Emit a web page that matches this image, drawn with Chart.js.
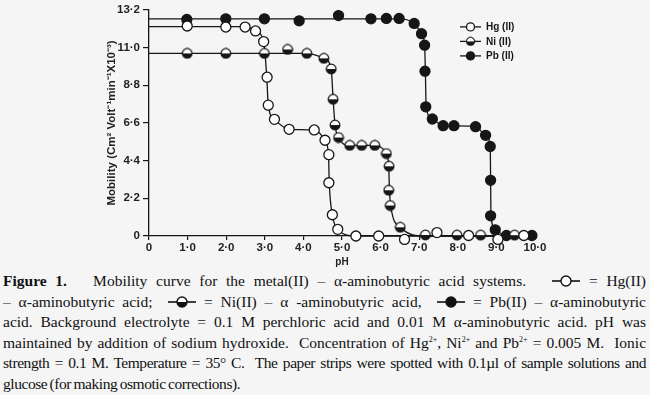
<!DOCTYPE html>
<html>
<head>
<meta charset="utf-8">
<script src="https://cdn.jsdelivr.net/npm/chart.js@4.4.1/dist/chart.umd.min.js"></script>
<style>
    html, body {
        margin: 0;
        padding: 0;
        background: #f5f5f5;
    }
    #wrap {
        position: absolute;
        left: 0;
        top: 0;
        width: 650px;
        height: 270px;
    }
    #caption {
        position: absolute;
        left: 3px;
        top: 271px;
        width: 643px;
        font-family: 'Liberation Serif', serif;
        font-size: 15.5px;
        line-height: 20.6px;
        color: #111;
    }
    #caption .ln {
        white-space: nowrap;
        text-align: justify;
        text-align-last: justify;
    }
    #caption .ln.tight {
        letter-spacing: -0.45px;
        word-spacing: -1px;
    }
    #caption .ln.last {
        text-align-last: left;
    }
    #caption sup {
        font-size: 8px;
        vertical-align: 6px;
        line-height: 0;
    }
    #caption svg {
        vertical-align: -1px;
    }
</style>
</head>
<body>
<div id="wrap"><canvas id="chart-mobility"></canvas></div>
<div id="caption">
    <div class="ln"><b>Figure 1.</b>&nbsp;&nbsp; Mobility curve for the metal(II) – α-aminobutyric acid systems.&nbsp;&nbsp; <svg width="28" height="12"><line x1="0" y1="6" x2="28" y2="6" stroke="#111" stroke-width="1.6"/><circle cx="14" cy="6" r="5" fill="#fff" stroke="#111" stroke-width="1.4"/></svg> = Hg(II)</div>
    <div class="ln">– α-aminobutyric acid;&nbsp; <svg width="28" height="12"><line x1="0" y1="6" x2="28" y2="6" stroke="#111" stroke-width="1.6"/><circle cx="14" cy="6" r="5" fill="#fff" stroke="#111" stroke-width="1.4"/><path d="M9 6 A5 5 0 0 0 19 6 Z" fill="#111"/></svg> = Ni(II) – α -aminobutyric acid,&nbsp; <svg width="28" height="12"><line x1="0" y1="6" x2="28" y2="6" stroke="#111" stroke-width="1.6"/><circle cx="14" cy="6" r="5" fill="#111" stroke="#111" stroke-width="1.4"/></svg> = Pb(II) – α-aminobutyric</div>
    <div class="ln">acid. Background electrolyte = 0.1 M perchloric acid and 0.01 M α-aminobutyric acid. pH was</div>
    <div class="ln">maintained by addition of sodium hydroxide.&nbsp; Concentration of Hg<sup>2+</sup>, Ni<sup>2+</sup> and Pb<sup>2+</sup> = 0.005 M.&nbsp; Ionic</div>
    <div class="ln tight">strength = 0.1 M. Temperature = 35° C.&nbsp; The paper strips were spotted with 0.1µl of sample solutions and</div>
    <div class="ln last tight">glucose (for making osmotic corrections).</div>
</div>
<script>
// tick labels
const xTickValues = [0, 1, 2, 3, 4, 5, 6, 7, 8, 9, 10];
const xTickLabels = ['0', '1·0', '2·0', '3·0', '4·0', '5·0', '6·0', '7·0', '8·0', '9·0', '10·0'];
const yTickValues = [0, 2.2, 4.4, 6.6, 8.8, 11.0, 13.2];
const yTickLabels = ['0', '2·2', '4·4', '6·6', '8·8', '11·0', '13·2'];

// measured points (pH, mobility)
const hgPh = [0.99, 1.99, 2.49, 2.76, 2.97, 3.06, 3.09, 3.25, 3.63, 4.28, 4.56, 4.66, 4.66, 4.75, 4.89, 5.36, 5.95, 6.62, 7.46, 8.28, 9.04, 9.71];
const hgMob = [12.26, 12.20, 12.20, 11.97, 11.35, 9.27, 7.64, 6.81, 6.23, 6.19, 5.59, 4.75, 3.11, 1.24, 0.39, 0, 0, -0.2, 0.2, 0.03, -0.2, 0.03];

const niPh = [0.99, 1.99, 2.99, 3.59, 4.09, 4.53, 4.72, 4.77, 4.82, 4.91, 5.20, 5.51, 5.85, 6.15, 6.22, 6.21, 6.25, 6.51, 7.16, 7.98, 8.59, 9.47];
const niMob = [10.66, 10.66, 10.66, 10.89, 10.66, 10.37, 9.75, 7.98, 6.48, 5.75, 5.29, 5.29, 5.29, 4.81, 4.07, 2.67, 1.78, 0.51, 0.06, 0.05, 0.05, 0.05];

const pbPh = [0.98, 1.99, 2.99, 3.89, 4.91, 5.75, 6.15, 6.48, 6.87, 7.06, 7.14, 7.15, 7.17, 7.34, 7.62, 7.90, 8.46, 8.72, 8.84, 8.85, 8.85, 8.97, 9.26, 9.92];
const pbMob = [12.64, 12.68, 12.68, 12.56, 12.87, 12.68, 12.70, 12.70, 12.41, 11.81, 11.14, 9.62, 7.54, 6.83, 6.44, 6.44, 6.38, 5.88, 5.23, 3.25, 1.18, 0.36, 0.03, 0.03];

// drawn curves (knots)
const hgCurvePh = [0, 2.49, 2.76, 2.97, 3.05, 3.09, 3.25, 3.63, 4.28, 4.56, 4.65, 4.67, 4.75, 4.89, 5.36, 10];
const hgCurveMob = [12.22, 12.22, 11.97, 11.35, 9.3, 7.64, 6.81, 6.23, 6.19, 5.59, 4.75, 3.11, 1.24, 0.39, 0, 0];

const niCurvePh = [0, 4.09, 4.53, 4.72, 4.77, 4.82, 4.91, 5.20, 5.85, 6.15, 6.21, 6.23, 6.26, 6.51, 7.16, 10];
const niCurveMob = [10.66, 10.66, 10.37, 9.75, 7.98, 6.48, 5.75, 5.29, 5.29, 4.81, 4.07, 2.67, 1.78, 0.51, 0, 0];

const pbCurvePh = [0, 6.48, 6.87, 7.06, 7.14, 7.16, 7.18, 7.34, 7.62, 8.46, 8.72, 8.84, 8.85, 8.86, 8.97, 9.26, 10];
const pbCurveMob = [12.68, 12.68, 12.41, 11.81, 11.14, 9.62, 7.54, 6.83, 6.44, 6.40, 5.88, 5.23, 3.25, 1.18, 0.36, 0, 0];

const ink = '#161616';

function pairs(xs, ys) {
    return xs.map((x, i) => ({x: x, y: ys[i]}));
}

// half filled marker for Ni(II)
function halfDot() {
    const c = document.createElement('canvas');
    c.width = 12;
    c.height = 12;
    const g = c.getContext('2d');
    g.beginPath();
    g.arc(6, 6, 4.8, 0, Math.PI * 2);
    g.fillStyle = '#fff';
    g.fill();
    g.beginPath();
    g.arc(6, 6, 4.8, 0, Math.PI);
    g.closePath();
    g.fillStyle = ink;
    g.fill();
    g.beginPath();
    g.arc(6, 6, 4.8, 0, Math.PI * 2);
    g.lineWidth = 1.3;
    g.strokeStyle = ink;
    g.stroke();
    return c;
}
const niDot = halfDot();

// legend drawn inside the plot, top right
const insideLegend = {
    id: 'insideLegend',
    afterDatasetsDraw(chart) {
        const ctx = chart.ctx;
        const area = chart.chartArea;
        const x0 = area.right - 75;
        let y = area.top + 17;
        ctx.save();
        ctx.font = 'bold 10px "Liberation Sans", sans-serif';
        ctx.textBaseline = 'middle';
        chart.data.datasets.forEach((ds) => {
            if (!ds.legend) {
                return;
            }
            ctx.strokeStyle = ink;
            ctx.lineWidth = 1.3;
            ctx.beginPath();
            ctx.moveTo(x0, y);
            ctx.lineTo(x0 + 21, y);
            ctx.stroke();
            if (ds.pointStyle === niDot) {
                ctx.drawImage(niDot, x0 + 10.5 - 5, y - 5, 10, 10);
            } else {
                ctx.beginPath();
                ctx.arc(x0 + 10.5, y, 4, 0, Math.PI * 2);
                ctx.fillStyle = ds.backgroundColor;
                ctx.fill();
                ctx.stroke();
            }
            ctx.fillStyle = ink;
            ctx.fillText(ds.label, x0 + 26, y + 0.5);
            y += 14.5;
        });
        ctx.restore();
    },
};

function markerSet(label, xs, ys, fill, style) {
    return {
        label: label,
        legend: true,
        data: pairs(xs, ys),
        showLine: false,
        pointStyle: style,
        pointRadius: 5,
        backgroundColor: fill,
        borderColor: ink,
        borderWidth: 1.3,
        clip: false,
    };
}

function curveSet(xs, ys) {
    return {
        data: pairs(xs, ys),
        showLine: true,
        pointRadius: 0,
        borderColor: ink,
        borderWidth: 1.3,
        cubicInterpolationMode: 'monotone',
        fill: false,
        clip: false,
    };
}

const tickFont = {family: '"Liberation Sans", sans-serif', size: 11.5, weight: 'bold'};

new Chart(document.getElementById('chart-mobility').getContext('2d'), {
    type: 'scatter',
    data: {
        datasets: [
            markerSet('Hg (II)', hgPh, hgMob, '#fff', 'circle'),
            markerSet('Ni (II)', niPh, niMob, '#fff', niDot),
            markerSet('Pb (II)', pbPh, pbMob, ink, 'circle'),
            curveSet(hgCurvePh, hgCurveMob),
            curveSet(niCurvePh, niCurveMob),
            curveSet(pbCurvePh, pbCurveMob),
        ],
    },
    options: {
        maintainAspectRatio: false,
        responsive: true,
        animation: false,
        layout: {
            padding: {left: 105, right: 115, top: 7, bottom: 2},
        },
        plugins: {
            legend: {display: false},
            tooltip: {enabled: false},
        },
        scales: {
            x: {
                type: 'linear',
                min: 0,
                max: 10,
                afterBuildTicks: (scale) => {
                    scale.ticks = xTickValues.map((v) => ({value: v}));
                },
                afterFit: (scale) => {
                    scale.height = 32;
                },
                ticks: {
                    color: '#222',
                    font: tickFont,
                    padding: 1,
                    maxRotation: 0,
                    autoSkip: false,
                    callback: (v, i) => xTickLabels[i],
                },
                grid: {
                    drawOnChartArea: false,
                    drawTicks: true,
                    tickLength: 4,
                    color: ink,
                    lineWidth: 1.2,
                },
                border: {display: true, color: ink, width: 1.3},
                title: {
                    display: true,
                    text: 'pH',
                    color: '#222',
                    font: {family: '"Liberation Sans", sans-serif', size: 10, weight: 'bold'},
                    padding: 0,
                },
            },
            y: {
                min: 0,
                max: 13.2,
                afterBuildTicks: (scale) => {
                    scale.ticks = yTickValues.map((v) => ({value: v}));
                },
                afterFit: (scale) => {
                    scale.width = 44;
                },
                ticks: {
                    color: '#222',
                    font: tickFont,
                    padding: 3,
                    callback: (v, i) => yTickLabels[i],
                },
                grid: {
                    drawOnChartArea: false,
                    drawTicks: true,
                    tickLength: 6,
                    color: ink,
                    lineWidth: 1.2,
                },
                border: {display: true, color: ink, width: 1.3},
                title: {
                    display: true,
                    text: 'Mobility (Cm² Volt⁻¹min⁻¹X10⁻³)',
                    color: '#222',
                    font: {family: '"Liberation Sans", sans-serif', size: 11.5, weight: 'bold'},
                    padding: 0,
                },
            },
        },
    },
    plugins: [insideLegend],
});
</script>
</body>
</html>
